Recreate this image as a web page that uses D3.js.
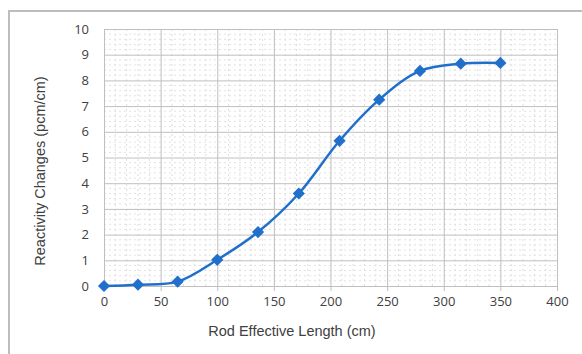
<!DOCTYPE html>
<html>
<head>
<meta charset="utf-8">
<script src="https://cdn.jsdelivr.net/npm/d3@7"></script>
<style>
body { margin: 0; background: #fff; }
text { fill: #404040; }
</style>
</head>
<body>
<script>
// rod length (cm) vs reactivity change (pcm/cm)
var rodLength = [0, 30, 65, 100, 136, 172, 208, 243, 279, 315, 350];
var reactivity = [0, 0.05, 0.17, 1.02, 2.1, 3.6, 5.65, 7.25, 8.37, 8.65, 8.68];
var xTicks = [0, 50, 100, 150, 200, 250, 300, 350, 400];
var yTicks = [0, 1, 2, 3, 4, 5, 6, 7, 8, 9, 10];

var width = 582, height = 354;
var margin = {left: 104, right: 25, top: 29, bottom: 68};
var w = width - margin.left - margin.right;
var h = height - margin.top - margin.bottom;

var svg = d3.select("body").append("svg")
    .attr("width", width)
    .attr("height", height);

// outer chart frame
svg.append("rect")
    .attr("x", 9).attr("y", 11)
    .attr("width", 600).attr("height", 400)
    .attr("fill", "none")
    .attr("stroke", "#bdbdbd")
    .attr("stroke-width", 2);

var x = d3.scaleLinear().domain([0, 400]).range([0, w]);
var y = d3.scaleLinear().domain([0, 10]).range([h, 0]);

var g = svg.append("g")
    .attr("transform", "translate(" + margin.left + "," + margin.top + ")");

// minor grid
g.append("g").selectAll("line")
    .data(d3.range(0, 401, 10).filter(function(d){ return d % 50 != 0; }))
    .enter().append("line")
    .attr("x1", function(d){ return x(d); }).attr("x2", function(d){ return x(d); })
    .attr("y1", 0).attr("y2", h)
    .attr("stroke", "#dedede").attr("stroke-dasharray", "2,3");
g.append("g").selectAll("line")
    .data(d3.range(0, 10.01, 0.2).filter(function(d){ return Math.abs(d - Math.round(d)) > 0.01; }))
    .enter().append("line")
    .attr("x1", 0).attr("x2", w)
    .attr("y1", function(d){ return y(d); }).attr("y2", function(d){ return y(d); })
    .attr("stroke", "#e2e2e2").attr("stroke-dasharray", "2,3");

// major grid via axes
var xAxis = d3.axisBottom(x).tickValues(xTicks).tickSize(h + 5).tickPadding(6);
var yAxis = d3.axisLeft(y).tickValues(yTicks).tickSize(0).tickPadding(15);

var gx = g.append("g").call(xAxis);
gx.select(".domain").remove();
gx.selectAll("line").attr("stroke", "#bfbfbf");
gx.selectAll("text").attr("font-size", 13).attr("font-family", "'Open Sans', sans-serif").attr("fill", "#333");

var gy = g.append("g").call(yAxis);
gy.select(".domain").remove();
gy.selectAll(".tick").append("line")
    .attr("x1", 0).attr("x2", w)
    .attr("stroke", "#bfbfbf");
gy.selectAll("text").attr("font-size", 13).attr("font-family", "'Open Sans', sans-serif").attr("fill", "#333");

// line
var line = d3.line()
    .x(function(d, i){ return x(rodLength[i]); })
    .y(function(d){ return y(d); })
    .curve(d3.curveCatmullRom.alpha(0.5));

g.append("path")
    .attr("d", line(reactivity))
    .attr("fill", "none")
    .attr("stroke", "#1f6fcb")
    .attr("stroke-width", 2.5);

g.selectAll(".pt")
    .data(reactivity)
    .enter().append("path")
    .attr("class", "pt")
    .attr("transform", function(d, i){ return "translate(" + x(rodLength[i]) + "," + y(d) + ")"; })
    .attr("d", d3.symbol().type(d3.symbolDiamond2).size(95))
    .attr("fill", "#1f6fcb");

// axis titles
svg.append("text")
    .attr("x", 292).attr("y", 336)
    .attr("text-anchor", "middle")
    .attr("font-size", 14.5)
    .attr("font-family", "'Liberation Sans', Arial, sans-serif")
    .text("Rod Effective Length (cm)");

svg.append("text")
    .attr("transform", "translate(45,171) rotate(-90)")
    .attr("text-anchor", "middle")
    .attr("font-size", 14.5)
    .attr("font-family", "'Liberation Sans', Arial, sans-serif")
    .text("Reactivity Changes (pcm/cm)");
</script>
</body>
</html>
